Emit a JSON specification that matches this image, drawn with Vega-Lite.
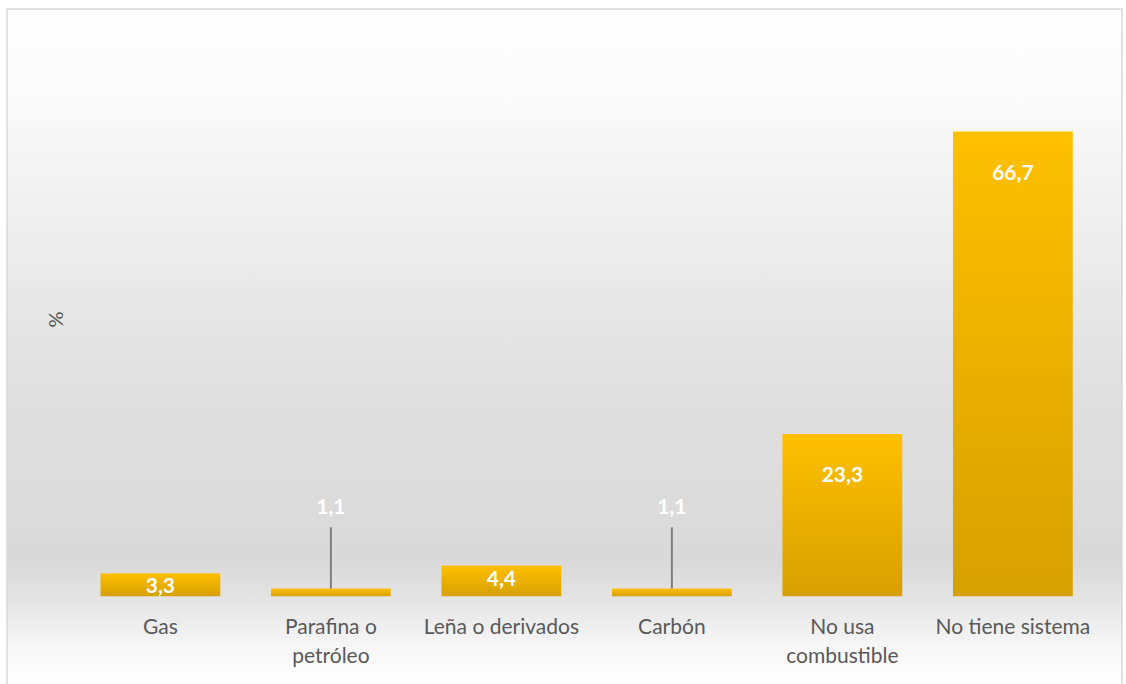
{
  "$schema": "https://vega.github.io/schema/vega-lite/v6.json",
  "width": 1126,
  "height": 684,
  "autosize": {"type": "fit", "contains": "padding"},
  "padding": {"left": 6, "top": 8, "right": 3, "bottom": -2},
  "background": "#ffffff",
  "config": {
    "view": {"stroke": null},
    "locale": {"number": {"decimal": ",", "thousands": ".", "grouping": [3], "currency": ["", " €"]}}
  },
  "layer": [
    {
      "data": {"values": [{"fondo": 1}]},
      "mark": {
        "type": "rect",
        "stroke": "#d9d9d9",
        "strokeWidth": 1.5,
        "fill": {
          "gradient": "linear", "x1": 0, "y1": 0, "x2": 0, "y2": 1,
          "stops": [
            {"offset": 0, "color": "#ffffff"},
            {"offset": 0.14, "color": "#fafafa"},
            {"offset": 0.36, "color": "#ececec"},
            {"offset": 0.58, "color": "#dfdfdf"},
            {"offset": 0.82, "color": "#d9d9d9"},
            {"offset": 0.88, "color": "#e6e6e6"},
            {"offset": 0.95, "color": "#f8f8f8"},
            {"offset": 1, "color": "#ffffff"}
          ]
        }
      },
      "encoding": {}
    },
    {
      "data": {
        "values": [
          {"categoria": "Gas", "valor": 3.3},
          {"categoria": "Parafina o petróleo", "valor": 1.1},
          {"categoria": "Leña o derivados", "valor": 4.4},
          {"categoria": "Carbón", "valor": 1.1},
          {"categoria": "No usa combustible", "valor": 23.3},
          {"categoria": "No tiene sistema", "valor": 66.7}
        ]
      },
      "encoding": {
        "x": {
          "field": "categoria",
          "type": "nominal",
          "sort": null,
          "scale": {"paddingInner": 0.2974, "paddingOuter": 0.4186, "align": 0.655},
          "axis": {
            "title": null,
            "orient": "bottom",
            "offset": -89,
            "domain": false,
            "ticks": false,
            "labelPadding": 20,
            "labelAngle": 0,
            "labelFont": "Lato",
            "labelFontSize": 21,
            "labelColor": "#595959",
            "labelLineHeight": 29,
            "labelBaseline": "top",
            "labelLimit": 0,
            "zindex": 1,
            "labelExpr": "datum.label == 'Parafina o petróleo' ? ['Parafina o', 'petróleo'] : datum.label == 'No usa combustible' ? ['No usa', 'combustible'] : datum.label"
          }
        },
        "y": {
          "field": "valor",
          "type": "quantitative",
          "scale": {"domain": [-12.74, 84.3], "nice": false, "zero": false},
          "axis": {
            "title": "%",
            "labels": false,
            "ticks": false,
            "domain": false,
            "grid": false,
            "titleFont": "Lato",
            "titleFontSize": 20,
            "titleFontWeight": "normal",
            "titleColor": "#595959",
            "titleX": 49,
            "titleY": 310,
            "titleAngle": -90,
            "titleAlign": "center",
            "titleBaseline": "middle",
            "zindex": 1
          }
        }
      },
      "layer": [
        {
          "mark": {
            "type": "bar",
            "fill": {
              "gradient": "linear", "x1": 0, "y1": 0, "x2": 0, "y2": 1,
              "stops": [
                {"offset": 0, "color": "#ffc000"},
                {"offset": 1, "color": "#d6a000"}
              ]
            }
          },
          "encoding": {"y2": {"datum": 0}}
        },
        {
          "transform": [{"filter": "datum.valor < 2"}],
          "mark": {"type": "rule", "stroke": "#7f7f7f", "strokeWidth": 2},
          "encoding": {"y2": {"datum": 9.9}}
        },
        {
          "transform": [{"filter": "datum.valor < 2"}],
          "mark": {"type": "text", "font": "Lato", "fontWeight": "bold", "fontSize": 21, "color": "#ffffff", "baseline": "middle", "dy": -81},
          "encoding": {"text": {"field": "valor", "type": "quantitative", "format": ".1f"}}
        },
        {
          "transform": [{"filter": "datum.valor >= 2 && datum.valor < 10"}],
          "mark": {"type": "text", "font": "Lato", "fontWeight": "bold", "fontSize": 21, "color": "#ffffff", "baseline": "middle", "dy": 14},
          "encoding": {"text": {"field": "valor", "type": "quantitative", "format": ".1f"}}
        },
        {
          "transform": [{"filter": "datum.valor >= 10"}],
          "mark": {"type": "text", "font": "Lato", "fontWeight": "bold", "fontSize": 21, "color": "#ffffff", "baseline": "middle", "dy": 42},
          "encoding": {"text": {"field": "valor", "type": "quantitative", "format": ".1f"}}
        }
      ]
    }
  ]
}
